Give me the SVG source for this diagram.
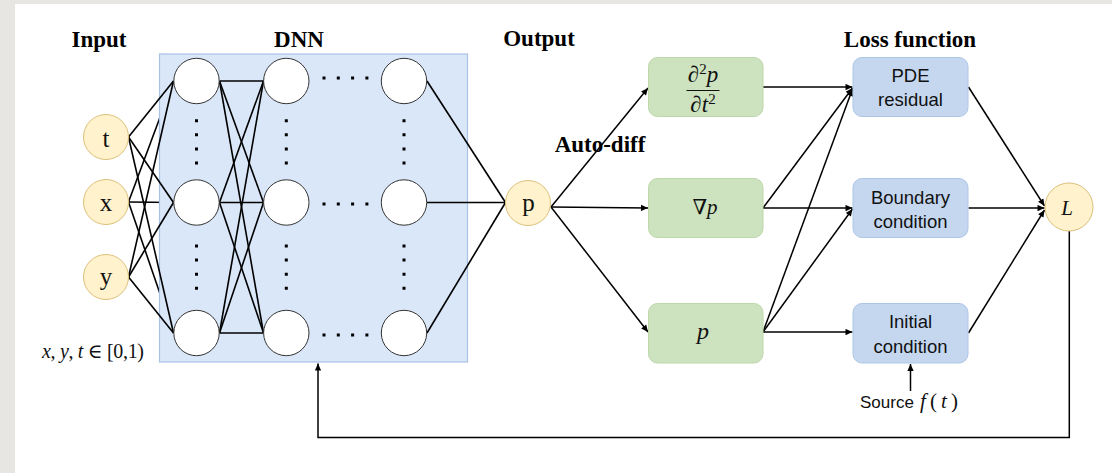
<svg xmlns="http://www.w3.org/2000/svg" width="1112" height="473" viewBox="0 0 1112 473">
<defs>
<marker id="ah" viewBox="0 0 10 10" refX="10" refY="5" markerWidth="8" markerHeight="7" markerUnits="userSpaceOnUse" orient="auto"><path d="M0,0.5 L10,5 L0,9.5 z" fill="#000"/></marker>
</defs>
<style>
.ln{stroke:#000;stroke-width:1.6;fill:none}
.ar{stroke:#000;stroke-width:1.5;fill:none;marker-end:url(#ah)}
.neu{fill:#fff;stroke:#333;stroke-width:1}
.inp{fill:#fff2cc;stroke:#dcc07a;stroke-width:1}
.gb{fill:#cde2bf;stroke:#bcd7a8;stroke-width:1}
.bb{fill:#c4d7ef;stroke:#aec6e6;stroke-width:1}
.ttl{font-family:"Liberation Serif",serif;font-weight:bold;font-size:23px;text-anchor:middle;fill:#000}
.lbl{font-family:"Liberation Sans",Arial,sans-serif;font-size:18.5px;text-anchor:middle;fill:#111}
.var{font-family:"Liberation Serif",serif;font-size:25px;text-anchor:middle;fill:#111}
.math{font-family:"Liberation Serif","DejaVu Serif",serif;fill:#111}
.dots{stroke:#000;stroke-width:3;fill:none}
.dh{stroke-dasharray:3 11.3}
</style>
<rect x="0" y="0" width="1112" height="473" fill="#e8e6e2"/>
<rect x="15" y="4" width="1097" height="469" fill="#ffffff"/>

<g id="titles">
<text class="ttl" x="99" y="47">Input</text>
<text class="ttl" x="299" y="47">DNN</text>
<text class="ttl" x="539" y="46">Output</text>
<text class="ttl" x="910" y="47">Loss function</text>
</g>

<g id="connectors-under">
<line class="ln" x1="128.5" y1="202" x2="173.5" y2="81"/>
<line class="ln" x1="128.5" y1="202" x2="173.5" y2="202.5"/>
<line class="ln" x1="128.5" y1="202" x2="173.5" y2="333"/>
</g>

<g id="dnn">
<rect x="159.5" y="54" width="308" height="308" fill="#dae7f8" stroke="#a9c1e6" stroke-width="1.2"/>
</g>

<g id="connectors">
<line class="ln" x1="128.5" y1="137" x2="173.5" y2="81"/>
<line class="ln" x1="128.5" y1="137" x2="173.5" y2="202.5"/>
<line class="ln" x1="128.5" y1="137" x2="173.5" y2="333"/>
<line class="ln" x1="128.5" y1="277" x2="173.5" y2="81"/>
<line class="ln" x1="128.5" y1="277" x2="173.5" y2="202.5"/>
<line class="ln" x1="128.5" y1="277" x2="173.5" y2="333"/>

<line class="ln" x1="219.5" y1="81" x2="263.5" y2="81"/>
<line class="ln" x1="219.5" y1="81" x2="263.5" y2="202.5"/>
<line class="ln" x1="219.5" y1="81" x2="263.5" y2="333"/>
<line class="ln" x1="219.5" y1="202.5" x2="263.5" y2="81"/>
<line class="ln" x1="219.5" y1="202.5" x2="263.5" y2="202.5"/>
<line class="ln" x1="219.5" y1="202.5" x2="263.5" y2="333"/>
<line class="ln" x1="219.5" y1="333" x2="263.5" y2="81"/>
<line class="ln" x1="219.5" y1="333" x2="263.5" y2="202.5"/>
<line class="ln" x1="219.5" y1="333" x2="263.5" y2="333"/>

<line class="ln" x1="427" y1="81" x2="505.5" y2="202.5"/>
<line class="ln" x1="427" y1="202.5" x2="505.5" y2="202.5"/>
<line class="ln" x1="427" y1="333" x2="505.5" y2="202.5"/>

<line class="ar" x1="551" y1="207" x2="648" y2="88"/>
<line class="ar" x1="551" y1="207" x2="648" y2="208"/>
<line class="ar" x1="551" y1="207" x2="648" y2="332"/>

<line class="ar" x1="763" y1="87" x2="852.5" y2="87"/>
<line class="ar" x1="763" y1="208" x2="852.5" y2="88"/>
<line class="ar" x1="763" y1="208" x2="852.5" y2="208"/>
<line class="ar" x1="763" y1="332" x2="852.5" y2="89"/>
<line class="ar" x1="763" y1="332" x2="852.5" y2="209"/>
<line class="ar" x1="763" y1="332" x2="852.5" y2="332"/>

<line class="ar" x1="968.5" y1="87" x2="1044.5" y2="206"/>
<line class="ar" x1="968.5" y1="208" x2="1044.5" y2="208"/>
<line class="ar" x1="968.5" y1="333" x2="1044.5" y2="210"/>

<line class="ar" x1="910.5" y1="391" x2="910.5" y2="364"/>
<path class="ar" d="M1069.3,231 V437.5 H318 V363.5" stroke="#222"/>
</g>

<g id="dots">
<line class="dots dh" x1="322.5" y1="78" x2="369" y2="78"/>
<line class="dots dh" x1="322.5" y1="204" x2="369" y2="204"/>
<line class="dots dh" x1="322.5" y1="335" x2="369" y2="335"/>
<line class="dots" stroke-dasharray="3 11.1" x1="196.5" y1="119.2" x2="196.5" y2="165"/>
<line class="dots" stroke-dasharray="3 11.1" x1="196.5" y1="244.5" x2="196.5" y2="292"/>
<line class="dots" stroke-dasharray="3 11.1" x1="286.3" y1="119.2" x2="286.3" y2="165"/>
<line class="dots" stroke-dasharray="3 11.1" x1="286.3" y1="244.5" x2="286.3" y2="292"/>
<line class="dots" stroke-dasharray="3 11.1" x1="404" y1="119.2" x2="404" y2="165"/>
<line class="dots" stroke-dasharray="3 11.1" x1="404" y1="244.5" x2="404" y2="292"/>
</g>

<g id="neurons">
<circle class="neu" cx="196.5" cy="81" r="22.7"/>
<circle class="neu" cx="196.5" cy="202.5" r="22.7"/>
<circle class="neu" cx="196.5" cy="333" r="22.7"/>
<circle class="neu" cx="286.3" cy="81" r="22.7"/>
<circle class="neu" cx="286.3" cy="202.5" r="22.7"/>
<circle class="neu" cx="286.3" cy="333" r="22.7"/>
<circle class="neu" cx="404" cy="81" r="22.7"/>
<circle class="neu" cx="404" cy="202.5" r="22.7"/>
<circle class="neu" cx="404" cy="333" r="22.7"/>
</g>

<g id="input-t"><circle class="inp" cx="106" cy="137" r="22.5"/><text class="var" x="106" y="147">t</text></g>
<g id="input-x"><circle class="inp" cx="106" cy="202" r="22.5"/><text class="var" x="106" y="211">x</text></g>
<g id="input-y"><circle class="inp" cx="106" cy="277" r="22.5"/><text class="var" x="106" y="285">y</text></g>
<g id="domain"><text class="math" x="42" y="358" font-size="20" textLength="102" lengthAdjust="spacing"><tspan font-style="italic">x</tspan>, <tspan font-style="italic">y</tspan>, <tspan font-style="italic">t</tspan> ∈ [0,1)</text></g>

<g id="output-p"><circle class="inp" cx="528" cy="203" r="22.5"/><text class="var" x="528.5" y="211" font-size="24">p</text></g>

<g id="autodiff"><text class="ttl" x="600" y="152">Auto-diff</text></g>

<g id="d2p">
<rect class="gb" x="648.5" y="57.5" width="114.5" height="59" rx="9"/>
<text class="math" x="703" y="82" font-size="23" text-anchor="middle">∂<tspan font-size="15" dy="-8">2</tspan><tspan font-style="italic" dy="8">p</tspan></text>
<line x1="686.5" y1="90.5" x2="719.5" y2="90.5" stroke="#111" stroke-width="1.2"/>
<text class="math" x="703" y="111.5" font-size="23" text-anchor="middle">∂<tspan font-style="italic">t</tspan><tspan font-size="15" dy="-8">2</tspan></text>
</g>
<g id="gradp">
<rect class="gb" x="648.5" y="178.5" width="114.5" height="59" rx="9"/>
<text class="math" x="705" y="214" font-size="21" text-anchor="middle">∇<tspan font-style="italic">p</tspan></text>
</g>
<g id="pbox">
<rect class="gb" x="648.5" y="303.5" width="114.5" height="59.5" rx="9"/>
<text class="math" x="703" y="339" font-size="24" font-style="italic" text-anchor="middle">p</text>
</g>

<g id="pde">
<rect class="bb" x="853" y="57.5" width="115" height="59" rx="9"/>
<text class="lbl" x="910.5" y="82">PDE</text>
<text class="lbl" x="910.5" y="106">residual</text>
</g>
<g id="boundary">
<rect class="bb" x="853" y="178.5" width="115" height="59" rx="9"/>
<text class="lbl" x="910.5" y="204">Boundary</text>
<text class="lbl" x="910.5" y="228">condition</text>
</g>
<g id="initial">
<rect class="bb" x="853" y="303.5" width="115" height="59.5" rx="9"/>
<text class="lbl" x="910.5" y="328">Initial</text>
<text class="lbl" x="910.5" y="352.5">condition</text>
</g>
<g id="source">
<text font-family="Liberation Sans, Arial, sans-serif" font-size="17" x="860" y="408" fill="#111">Source</text>
<text class="math" x="920" y="408" font-size="21" font-style="italic" textLength="38" lengthAdjust="spacing">f<tspan font-style="normal">(</tspan>t<tspan font-style="normal">)</tspan></text>
</g>

<g id="loss-L"><circle class="inp" cx="1069" cy="207" r="24"/><text class="math" x="1067" y="215" font-size="21" font-style="italic" text-anchor="middle">L</text></g>
</svg>
